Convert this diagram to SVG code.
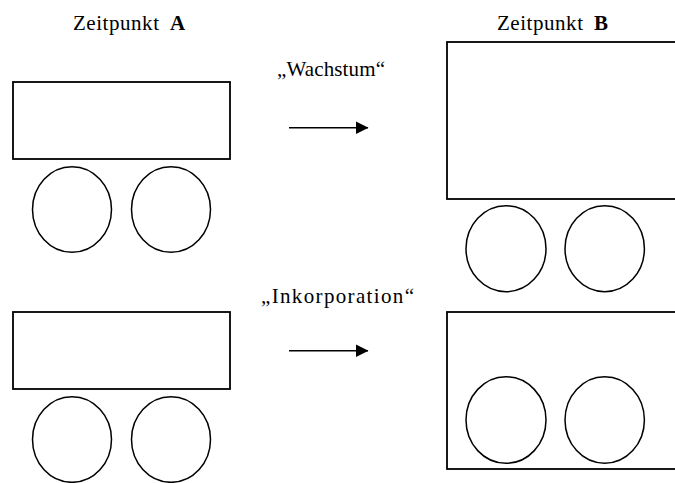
<svg xmlns="http://www.w3.org/2000/svg" width="675" height="483" viewBox="0 0 675 483">
<style>
.box{fill:none;stroke:#000;stroke-width:1.8}
.cell{fill:none;stroke:#000;stroke-width:1.5}
.lbl{font-size:21px;fill:#000}
.b{font-weight:bold}
.conn{stroke:#000;stroke-width:1.6;fill:none}
</style>
<defs>
<marker id="ah" markerWidth="13" markerHeight="13" refX="12.5" refY="6.5" orient="auto" markerUnits="userSpaceOnUse">
<path d="M0,0 L13,6.5 L0,13 Z" fill="#000"/>
</marker>
</defs>
<rect width="675" height="483" fill="#fff"/>
<g id="labels" font-family="Liberation Serif, Times New Roman, Times, serif">
<text class="lbl" x="73" y="30"><tspan textLength="86" lengthAdjust="spacing">Zeitpunkt</tspan><tspan class="b" x="170">A</tspan></text>
<text class="lbl" x="497" y="30"><tspan textLength="86" lengthAdjust="spacing">Zeitpunkt</tspan><tspan class="b" x="594">B</tspan></text>
<text class="lbl" x="277" y="75.5" textLength="108" lengthAdjust="spacing">„Wachstum“</text>
<text class="lbl" x="261" y="303" textLength="153" lengthAdjust="spacing">„Inkorporation“</text>
</g>
<g id="nodeA1">
<rect class="box" x="13" y="82" width="217" height="77"/>
<ellipse class="cell" cx="72" cy="209.5" rx="39.5" ry="42.8"/>
<ellipse class="cell" cx="171" cy="209.5" rx="39.5" ry="42.8"/>
</g>
<g id="nodeB1">
<rect class="box" x="447" y="42" width="240" height="157"/>
<ellipse class="cell" cx="506" cy="248.7" rx="40" ry="43"/>
<ellipse class="cell" cx="604.7" cy="248.7" rx="39.7" ry="43"/>
</g>
<g id="nodeA2">
<rect class="box" x="13" y="312" width="217" height="77"/>
<ellipse class="cell" cx="72" cy="439.5" rx="39.5" ry="42.8"/>
<ellipse class="cell" cx="171" cy="439.5" rx="39.5" ry="42.8"/>
</g>
<g id="nodeB2">
<rect class="box" x="447" y="312" width="240" height="157"/>
<ellipse class="cell" cx="506" cy="420" rx="40" ry="43.3"/>
<ellipse class="cell" cx="604.7" cy="420" rx="39.7" ry="43.3"/>
</g>
<g id="connectors">
<line class="conn" x1="289" y1="127.7" x2="368" y2="127.7" marker-end="url(#ah)"/>
<line class="conn" x1="289" y1="350.7" x2="368" y2="350.7" marker-end="url(#ah)"/>
</g>
</svg>
